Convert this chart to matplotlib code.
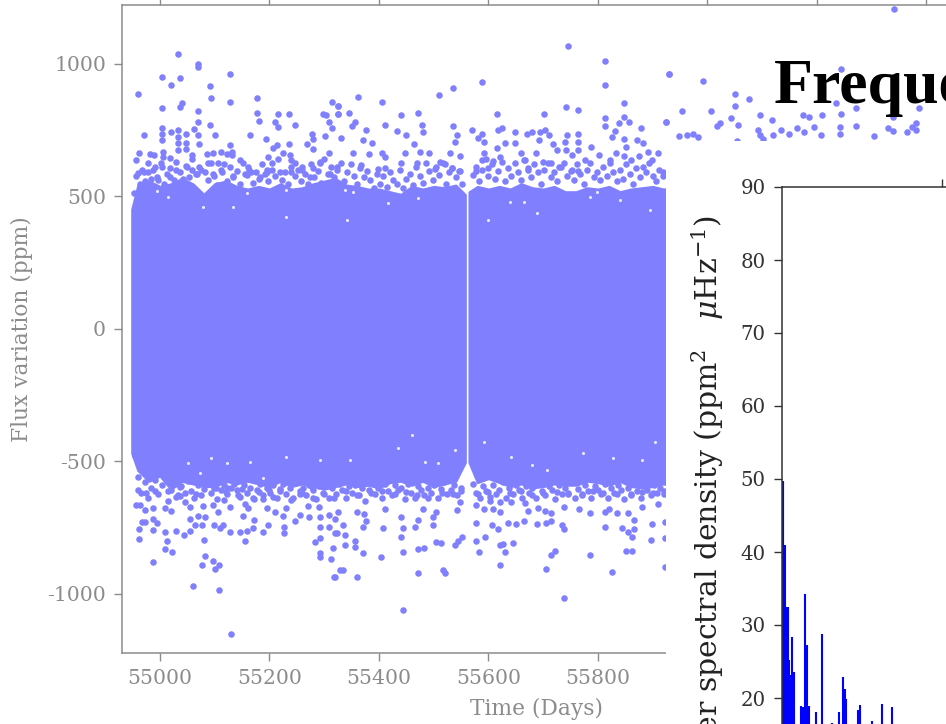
import matplotlib
matplotlib.use('Agg')
import matplotlib.pyplot as plt
from matplotlib.patches import Rectangle

# light curve: points above the dense band
high_days = [54959,54971,54962,54956,55004,55004,55004,55004,55004,55021,55033,55036,55037,55040,55021,55033,55033,55033,55033,
    55047,55047,55047,55063,55070,55070,55070,55070,55070,55071,55091,55094,55091,55101,55128,55128,55128,55178,55178,55180,55164,
    55215,55236,55210,55215,55246,55194,55213,55236,55207,55224,55278,55279,55268,55280,55297,55303,55309,55315,55301,55314,55325,55325,
    54982,54989,55005,55005,55018,55058,55085,55097,55112,55122,55132,55132,55146,55106,55088,55161,55198,55204,55195,55238,55240,55246,55259,55308,55292,55280,
    54960,54970,54979,54988,54994,55003,55018,55030,55049,55058,55067,55097,55113,55134,55155,55167,55183,55195,55219,55240,55259,55274,55292,55310,55323,
    55326,55326,55345,55362,55405,55356,55350,55376,55411,55441,55471,55510,55536,55589,55432,55449,55478,55480,55536,55543,55539,55570,55589,55581,55591,55370,55331,55387,55464,
    55616,55617,55625,55648,55670,55679,55694,55703,55710,55693,55702,55742,55763,55746,55812,55813,55847,55847,55812,55813,55838,55857,55879,55831,55825,55743,55740,55763,55763,55763,55741,55787,55847,55852,55872,55882,55929,55924,
    55352,55382,55405,55411,55447,55475,55492,55530,55548,55591,55589,55615,55630,55648,55660,55687,55717,55725,55752,55776,55802,55833,55847,55875,55892,55910,
    55441,55399,55411,55368,55469,55511,55520,55533,55502,55548,55578,55600,55609,55621,55664,55700,55715,55752,55764,55728,55673,55822,55861,55898,55919,
    55930,55992,56050,56075,56051,55954,56007,55925,56043,56023,56018,56056,56096,56118,56174,56186,56210,56244,56234,56271,56386,56244,56341,56339,
    56093,56135,56120,56148,56164,56176,56195,56207,56242,56242,56271,56329,56339,56364,56380,56373,56381,56304,56096,56102,55948,55962,55974,55983,56053]
high_flux = [885,730,664,636,950,831,755,736,711,920,1035,945,837,850,743,749,724,699,674,
    734,701,676,752,998,986,820,781,730,696,915,870,770,730,960,855,694,870,814,783,730,
    810,810,781,760,770,717,692,695,680,661,736,715,695,677,810,806,781,755,726,855,840,810,
    658,654,667,648,642,655,659,664,667,660,667,655,636,624,624,610,646,623,597,655,636,624,610,663,630,604,
    588,592,623,597,572,610,572,597,610,597,585,585,592,572,585,592,572,592,592,592,597,572,623,585,610,
    841,810,815,875,856,781,764,750,770,806,815,880,907,930,745,730,770,740,764,730,705,750,736,720,705,711,720,699,696,
    811,749,755,740,736,740,740,750,730,711,811,836,826,1065,1011,920,850,800,796,765,775,781,755,745,721,730,705,736,705,674,674,686,717,686,711,701,960,781,
    661,657,664,646,661,667,661,661,651,661,636,680,699,699,661,661,695,674,655,636,655,664,650,650,667,661,
    624,602,605,617,624,627,621,605,602,596,596,605,634,649,636,630,624,600,596,610,605,636,636,636,592,
    960,935,884,866,841,821,821,781,796,774,764,768,806,786,806,800,806,811,851,831,831,980,1206,800,
    750,750,730,736,755,740,760,730,760,736,764,755,746,740,774,760,750,726,730,717,726,731,736,724,709]

# crowded rim just above the band
rim_top_days = [54953,54957,54963,54968,54973,54978,54984,54990,54996,55001,55007,55013,55019,55025,55030,55036,55042,55048,55053,55059,55065,55071,55075,55083,55088,55094,55099,55105,55111,55117,55123,55128,55134,55140,55146,55152,55158,55163,55169,55175,55181,55187,55192,55198,55204,55210,55216,55222,55228,55234,55240,55246,55252,55258,55264,55270,55276,55282,55288,55294,55300,55306,55312,55318,55324,55330,55336,55342,55348,55354,55360,55366,55372,55378,55384,55390,55396,55402,55408,55414,55420,55426,55432,55438,55444,55450,55456,55462,55468,55474,55480,55486,55492,55498,55504,55510,55516,55522,55528,55534,55540,55546,55551,
    55572,55577,55583,55589,55595,55600,55606,55612,55618,55624,55630,55636,55642,55648,55654,55660,55666,55672,55678,55684,55690,55696,55702,55708,55714,55720,55726,55732,55738,55744,55750,55756,55762,55768,55774,55780,55786,55792,55798,55804,55810,55816,55822,55828,55834,55840,55846,55852,55858,55864,55870,55876,55882,55888,55894,55900,55906,55912,55918]
rim_top_flux = [510,575,545,600,555,590,565,610,560,625,545,585,605,560,630,590,565,615,570,640,585,610,600,590,560,625,575,540,600,620,555,610,575,595,545,625,580,600,550,590,565,620,585,555,600,575,640,560,590,545,610,575,600,555,585,545,620,570,595,550,640,585,610,570,600,625,555,590,620,575,545,605,570,595,560,530,585,545,575,535,590,560,545,600,530,565,585,540,610,575,550,625,595,560,610,580,625,545,590,605,570,595,545,
    580,610,555,600,640,575,620,565,595,630,555,605,575,625,590,560,635,600,570,620,590,545,600,625,570,590,555,610,625,575,595,560,620,585,545,600,625,570,590,560,610,575,625,590,555,600,565,620,585,545,605,570,610,590,625,575,555,600,575]

# points below the dense band
low_days = [55130,55108,55060,54988,55077,55096,55108,55101,55082,55010,55022,55012,54961,54961,55009,55030,55043,55055,55080,55155,55147,55158,55169,55189,55198,55226,55226,55099,55115,55110,55128,55077,55064,55055,55070,55082,54988,54995,54988,54967,54973,
    54956,54963,54973,54988,55009,55020,55030,55036,55055,55079,55097,55106,55128,55116,55152,55155,55161,55171,55195,55210,55230,55224,55246,55255,55271,55273,55290,55293,55293,55309,55320,55309,55320,55283,55292,55316,55292,55292,55312,55319,55329,
    55036,55103,55122,55143,55170,55189,55207,55240,55256,55280,55277,55317,54960,54975,54990,55015,55045,55065,55120,55150,55180,55200,55220,55260,55300,
    55444,55737,55621,55705,55826,55471,55521,55517,55359,55334,55318,55403,55371,55444,55471,55483,55505,55513,55539,55545,55551,55577,55594,55582,55630,55621,55627,55644,55715,55722,55785,55852,55863,55896,55338,55357,55357,55441,55408,55444,55466,55499,55335,55323,55338,55371,55376,55326,55359,55373,55411,55441,55471,55481,55505,55498,55542,55548,
    55577,55577,55592,55606,55618,55635,55650,55664,55688,55705,55715,55734,55737,55812,55843,55855,55865,55863,55898,55922,55922,55922,55865,55621,55609,55672,55691,55703,55715,55737,55765,55785,55812,55821,55834,55854,55880,55910,55642,55666,55621,55603,
    55340,55360,55385,55405,55430,55450,55470,55490,55515,55535,55550,55580,55600,55640,55660,55680,55700,55725,55745,55770,55790,55810,55835,55860,55880,55900,55920]
low_flux = [-1153,-988,-973,-882,-892,-879,-892,-908,-859,-833,-843,-803,-793,-758,-768,-763,-778,-763,-798,-803,-768,-763,-753,-768,-743,-773,-748,-743,-743,-753,-768,-743,-741,-718,-707,-712,-718,-735,-760,-729,-732,
    -667,-665,-685,-679,-679,-687,-634,-632,-672,-670,-666,-691,-673,-647,-707,-662,-679,-722,-679,-694,-679,-709,-728,-704,-668,-713,-672,-710,-748,-704,-720,-748,-773,-804,-791,-827,-848,-863,-868,-938,-911,
    -597,-603,-603,-628,-641,-645,-637,-647,-625,-641,-597,-641,-610,-620,-615,-612,-620,-625,-618,-605,-618,-610,-612,-620,-625,
    -1062,-1018,-892,-908,-917,-923,-921,-911,-938,-913,-938,-862,-848,-843,-833,-828,-804,-808,-818,-800,-788,-803,-788,-843,-843,-818,-813,-808,-853,-838,-853,-838,-838,-798,-818,-803,-823,-788,-753,-753,-748,-743,-741,-773,-778,-748,-728,-692,-692,-700,-682,-710,-722,-682,-691,-710,-685,-653,
    -733,-666,-682,-743,-758,-733,-738,-728,-738,-733,-728,-743,-758,-748,-753,-768,-758,-788,-738,-729,-792,-901,-722,-691,-682,-688,-679,-688,-698,-672,-682,-698,-692,-682,-698,-698,-672,-662,-654,-660,-654,-635,
    -615,-630,-622,-612,-625,-618,-630,-640,-622,-625,-615,-625,-618,-622,-612,-630,-620,-618,-625,-630,-612,-622,-625,-630,-618,-622,-615]

# crowded rim just below the band
rim_bot_days = [54954,54960,54966,54972,54978,54984,54990,54997,55003,55009,55015,55021,55027,55033,55039,55045,55051,55057,55063,55069,55075,55081,55087,55093,55099,55105,55111,55117,55123,55129,55135,55141,55147,55153,55159,55165,55171,55177,55183,55189,55195,55201,55207,55213,55219,55225,55231,55237,55243,55249,55255,55261,55267,55273,55279,55285,55291,55297,55303,55309,55315,55321,55327,55333,55339,55345,55351,55357,55363,55369,55375,55381,55387,55393,55399,55405,55411,55417,55423,55429,55435,55441,55447,55453,55459,55465,55471,55477,55483,55489,55495,55501,55507,55513,55519,55525,55531,55537,55543,55549,
    55572,55578,55584,55590,55596,55602,55608,55614,55620,55626,55632,55638,55644,55650,55656,55662,55668,55674,55680,55686,55692,55698,55704,55710,55716,55722,55728,55734,55740,55746,55752,55758,55764,55770,55776,55782,55788,55794,55800,55806,55812,55818,55824,55830,55836,55842,55848,55854,55860,55866,55872,55878,55884,55890,55896,55902,55908,55914,55920]
rim_bot_flux = [-480,-560,-620,-580,-640,-600,-570,-625,-590,-560,-650,-610,-585,-630,-595,-655,-575,-615,-640,-590,-630,-605,-575,-620,-600,-645,-610,-590,-625,-600,-585,-610,-635,-590,-620,-600,-645,-610,-585,-630,-600,-620,-590,-640,-605,-585,-625,-600,-640,-580,-615,-600,-630,-590,-610,-645,-595,-620,-575,-640,-600,-625,-585,-610,-640,-595,-620,-590,-630,-600,-650,-610,-580,-625,-600,-640,-585,-615,-630,-590,-610,-600,-645,-585,-620,-640,-595,-610,-630,-600,-620,-590,-640,-605,-580,-625,-610,-590,-630,-600,
    -585,-620,-640,-595,-615,-650,-590,-625,-610,-580,-640,-600,-625,-590,-610,-640,-595,-620,-600,-640,-585,-615,-630,-595,-610,-645,-590,-625,-600,-620,-580,-640,-605,-625,-590,-615,-640,-595,-610,-625,-585,-640,-600,-620,-590,-610,-645,-600,-625,-585,-615,-640,-595,-610,-630,-590,-620,-600,-625]

# outline of the dense band, left and right of the data gap
band_days_a = [54949,54960,54980,55000,55020,55040,55060,55080,55100,55120,55140,55160,55180,55200,55220,55240,55260,55280,55300,55320,55340,55360,55380,55400,55420,55440,55460,55480,55500,55520,55540,55557]
band_top_a = [450,540,555,535,545,565,545,505,545,555,535,525,535,525,545,525,530,545,555,565,540,535,525,525,515,505,535,525,535,530,540,505]
band_bot_a = [-470,-535,-575,-555,-605,-575,-585,-595,-595,-575,-585,-575,-585,-595,-575,-595,-585,-595,-605,-595,-585,-595,-590,-600,-580,-575,-590,-575,-595,-585,-575,-505]
band_days_b = [55565,55580,55600,55620,55640,55660,55680,55700,55720,55740,55760,55780,55800,55820,55840,55860,55880,55900,55920,55950]
band_top_b = [515,535,525,535,525,545,530,525,535,515,515,530,525,535,515,525,530,535,525,535]
band_bot_b = [-505,-580,-565,-580,-595,-585,-600,-595,-585,-590,-590,-575,-580,-590,-575,-595,-600,-595,-585,-605]

# small white holes left inside the band
hole_days = [55015,55134,55158,55231,55231,55079,54994,55338,55353,55417,55441,55472,55341,55664,55688,55785,55798,55840,55895,55600,55639,
    55052,55094,55122,55164,55231,55292,55073,55189,55347,55435,55460,55484,55508,55539,55591,55642,55679,55706,55773,55828,55880,55904]
hole_flux = [497,460,510,523,422,460,520,523,516,472,523,491,410,479,435,497,515,485,447,411,479,
    -509,-490,-509,-502,-484,-496,-547,-565,-496,-452,-402,-502,-509,-459,-427,-484,-515,-534,-471,-490,-496,-427]

# power spectrum in front
freq = [0,0.25,0.56,0.94,1.34,1.66,1.97,2.19,2.59,2.9,3.22,3.5,3.84,5.94,6.4,6.75,7.28,7.81,8.2,8.63,10.7,12.7,15.6,18,19.1,19.8,20.1,23.9,24.5,28.1,31.3,34.4]
power = [49.7,49.7,49.7,40.9,32.4,32.4,32.4,25.2,23.2,23,28.4,22,23.6,18.9,17,18.8,34.2,27.3,18.9,18.9,18.1,28.7,16.6,18.1,22.9,21.3,19.8,18.4,19,16.8,19.2,18.8]
flux_ticks = [-1000,-500,0,500,1000]
flux_labels = ['-1000','-500','0','500','1000']
time_ticks = [55000,55200,55400,55600,55800,56000,56200,56400]
time_labels = ['55000','55200','55400','55600','55800','56000','56200','56400']
power_ticks = [20,30,40,50,60,70,80,90]

W, H = 946, 724
GREY = '#8c8c8c'
PURPLE = '#8080ff'

plt.rcParams['font.family'] = 'DejaVu Serif'
plt.rcParams['mathtext.fontset'] = 'dejavuserif'

def box(left, top, right, bottom):
    return [left / W, 1 - bottom / H, (right - left) / W, (bottom - top) / H]

fig = plt.figure(figsize=(W / 100, H / 100), dpi=100, facecolor='white')

# main axes runs off the right edge of the figure
ax = fig.add_axes(box(122, 5, 1140, 653))
ax.set_xlim(54930.6, 54930.6 + 1018 / 0.5475)
ax.set_ylim(-1224.5, 1221)
ax.fill_between(band_days_a, band_bot_a, band_top_a, color=PURPLE, lw=2)
ax.fill_between(band_days_b, band_bot_b, band_top_b, color=PURPLE, lw=2)
ax.plot(hole_days, hole_flux, 'o', color='white', ms=2.2, mew=0, alpha=0.85)
for d, f in [(high_days, high_flux), (rim_top_days, rim_top_flux), (low_days, low_flux), (rim_bot_days, rim_bot_flux)]:
    ax.plot(d, f, 'o', color=PURPLE, ms=4.7, mew=0)
ax.set_xticks(time_ticks, time_labels)
ax.set_yticks(flux_ticks, flux_labels)
ax.tick_params(axis='x', top=True, length=5.5, width=1, color=GREY, labelcolor=GREY, labelsize=14.7, pad=6)
ax.tick_params(axis='y', length=5.5, width=1, color=GREY, labelcolor=GREY, labelsize=14.7, pad=6)
for s in ax.spines.values():
    s.set_color(GREY)
    s.set_linewidth(1.1)
fig.text(537 / W, 1 - 709 / H, 'Time (Days)', color=GREY, fontsize=15.7, ha='center', va='center')
fig.text(22 / W, 1 - 329 / H, 'Flux variation (ppm)', color=GREY, fontsize=15.7, rotation=90, ha='center', va='center')

# white panel of the spectrum figure, pasted over the light curve
fig.add_artist(Rectangle((666 / W, 0), 400 / W, 1 - 141 / H, transform=fig.transFigure, color='white', lw=0, zorder=2))

ax2 = fig.add_axes(box(781.7, 187, 1300, 844), zorder=3)
ax2.set_xlim(0, (1300 - 781.7) * 0.3125)
ax2.set_ylim(0, 90)
ax2.vlines(freq, 0, power, color='#0000ff', lw=1.5)
ax2.set_xticks([50, 100], ['', ''])
ax2.set_yticks(power_ticks, [str(p) for p in power_ticks])
ax2.tick_params(axis='x', top=True, bottom=False, length=5.5, width=1, color='#333333')
ax2.tick_params(axis='y', length=5.5, width=1, color='#333333', labelcolor='#333333', labelsize=14.2, pad=6)
for s in ax2.spines.values():
    s.set_color('#333333')
    s.set_linewidth(1.1)

fig.text(708 / W, 1 - 215 / H, r'Power spectral density (ppm$^{2}$   $\mu$Hz$^{-1}$)', fontsize=21.5, color='#222222',
         rotation=90, ha='center', va='top', zorder=4)
fig.text(774 / W, 1 - 103 / H, 'Frequency', family='Liberation Serif', weight='bold', fontsize=46, color='black',
         ha='left', va='baseline', zorder=4)

fig.savefig('out.png', dpi=100)
